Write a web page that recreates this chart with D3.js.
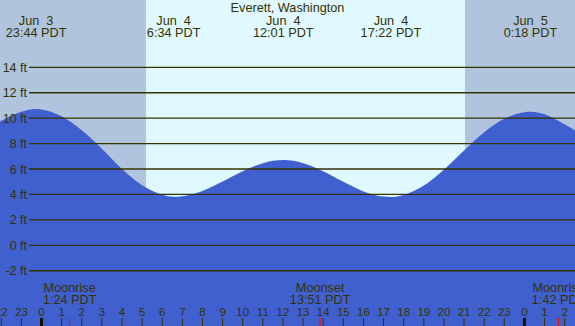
<!DOCTYPE html>
<html>
<head>
<meta charset="utf-8">
<script src="https://cdn.jsdelivr.net/npm/d3@7"></script>
<style>
	body { margin: 0; overflow: hidden; background: #fff; }
	svg { display: block; font-family: "Liberation Sans", Arial, sans-serif; }
</style>
</head>
<body>
<svg id="svg" width="575" height="326"></svg>
<script>
// hours are counted from Jun 4 00:00 PDT
let tideHours = [-3, -2, -1, -0.27, 0, 1, 2, 3, 4, 5, 6, 6.57, 7, 8, 9, 10, 11, 12.02, 13, 14, 15, 16, 17, 17.37, 18, 19, 20, 21, 22, 23, 24, 24.3, 25, 26, 27];
let tideFeet = [9.0, 9.8, 10.5, 10.72, 10.69, 10.15, 9.05, 7.6, 6.0, 4.72, 3.98, 3.82, 3.86, 4.28, 5.02, 5.83, 6.46, 6.7, 6.46, 5.82, 4.99, 4.24, 3.83, 3.8, 3.96, 4.7, 5.95, 7.45, 8.9, 9.95, 10.47, 10.5, 10.3, 9.5, 8.6];

let extremeHours = [-0.267, 6.567, 12.017, 17.367, 24.3];
let extremeDays = ["Jun  3", "Jun  4", "Jun  4", "Jun  4", "Jun  5"];
let extremeTimes = ["23:44 PDT", "6:34 PDT", "12:01 PDT", "17:22 PDT", "0:18 PDT"];

let sunHours = [5.19, 21.05]; // sunrise, sunset

let moonHours = [1.4, 13.85, 25.7];
let moonEvents = ["Moonrise", "Moonset", "Moonrise"];
let moonTimes = ["1:24 PDT", "13:51 PDT", "1:42 PDT"];

let ftTicks = [-2, 0, 2, 4, 6, 8, 10, 12, 14];
let hourTicks = d3.range(-2, 27);

let svg = d3.select("#svg");
let width = 575, height = 326;
let ink = "#333300";

let xScale = d3.scaleLinear()
		.domain([-2.063, 26.515])
		.range([0, width]);

let yScale = d3.scaleLinear()
		.domain([0, 14])
		.range([245.3, 67.3]);

// night / day background
svg.append("rect")
		.attr("x", 0).attr("y", 0)
		.attr("width", width).attr("height", height)
		.attr("fill", "#b0c4de");

svg.append("rect")
		.attr("x", xScale(sunHours[0]))
		.attr("y", 0)
		.attr("width", xScale(sunHours[1]) - xScale(sunHours[0]))
		.attr("height", height)
		.attr("fill", "#e0f8ff");

// water
let tideData = tideHours.map(function(h, i) { return {h: h, ft: tideFeet[i]}; });

let area = d3.area()
		.x(function(d) { return xScale(d.h); })
		.y0(height)
		.y1(function(d) { return yScale(d.ft); })
		.curve(d3.curveMonotoneX);

svg.append("path")
		.datum(tideData)
		.attr("d", area)
		.attr("fill", "#4060d0");

// grid lines + ft labels
let grid = svg.append("g").attr("class", "grid");

grid.selectAll("line").data(ftTicks).enter()
		.append("line")
		.attr("x1", 29)
		.attr("x2", width)
		.attr("y1", function(d) { return yScale(d); })
		.attr("y2", function(d) { return yScale(d); })
		.attr("stroke", ink)
		.attr("stroke-width", 1.3);

grid.selectAll("text").data(ftTicks).enter()
		.append("text")
		.attr("x", 27)
		.attr("y", function(d) { return yScale(d) + 4.5; })
		.attr("text-anchor", "end")
		.attr("font-size", "12.5px")
		.attr("fill", ink)
		.text(function(d) { return d + " ft"; });

// title
svg.append("text")
		.attr("x", 287.5)
		.attr("y", 12)
		.attr("text-anchor", "middle")
		.attr("font-size", "12.7px")
		.attr("fill", ink)
		.text("Everett, Washington");

// high / low labels
let tops = svg.append("g").attr("class", "extremes");

extremeHours.forEach(function(h, i) {
	tops.append("text")
		.attr("x", xScale(h))
		.attr("y", 24.5)
		.attr("text-anchor", "middle")
		.attr("font-size", "12.7px")
		.attr("fill", ink)
		.style("white-space", "pre")
		.text(extremeDays[i]);
	tops.append("text")
		.attr("x", xScale(h))
		.attr("y", 36.5)
		.attr("text-anchor", "middle")
		.attr("font-size", "12.7px")
		.attr("fill", ink)
		.text(extremeTimes[i]);
});

// moon labels
let moon = svg.append("g").attr("class", "moon");

moonHours.forEach(function(h, i) {
	moon.append("text")
		.attr("x", xScale(h))
		.attr("y", 291.5)
		.attr("text-anchor", "middle")
		.attr("font-size", "12.7px")
		.attr("fill", ink)
		.text(moonEvents[i]);
	moon.append("text")
		.attr("x", xScale(h))
		.attr("y", 303.5)
		.attr("text-anchor", "middle")
		.attr("font-size", "12.7px")
		.attr("fill", ink)
		.text(moonTimes[i]);
	moon.append("line")
		.attr("x1", xScale(h)).attr("x2", xScale(h))
		.attr("y1", 318).attr("y2", height)
		.attr("stroke", "#ff0000")
		.attr("stroke-width", 1);
});

// hour axis
let xAxis = svg.append("g").attr("class", "xAxis");

xAxis.selectAll("text").data(hourTicks).enter()
		.append("text")
		.attr("x", function(d) { return xScale(d); })
		.attr("y", 315.5)
		.attr("text-anchor", "middle")
		.attr("font-size", "11.5px")
		.attr("fill", ink)
		.text(function(d) { return (d + 24) % 24; });

xAxis.selectAll("line").data(hourTicks).enter()
		.append("line")
		.attr("x1", function(d) { return xScale(d); })
		.attr("x2", function(d) { return xScale(d); })
		.attr("y1", 318)
		.attr("y2", height)
		.attr("stroke", function(d) { return d % 24 == 0 ? "#111100" : ink; })
		.attr("stroke-width", function(d) { return d % 24 == 0 ? 3 : 1; });
</script>
</body>
</html>
